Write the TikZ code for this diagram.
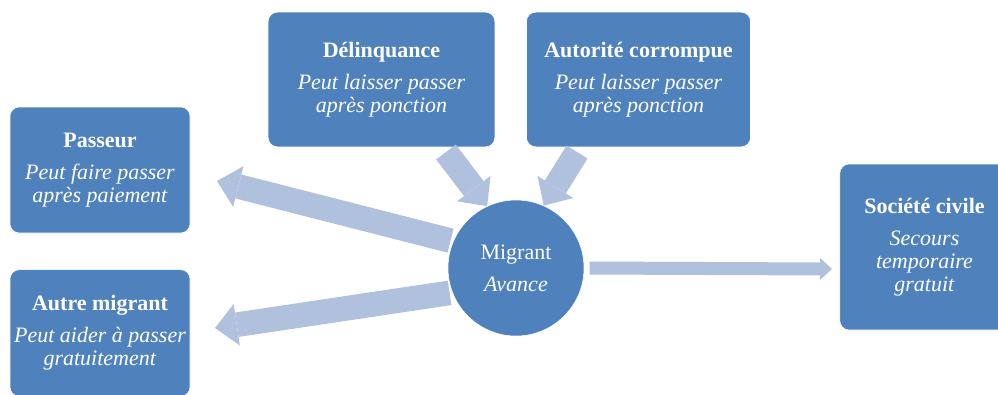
\documentclass[tikz,border=0pt]{standalone}
\usepackage{fontspec}
\setmainfont{Liberation Serif}
\usetikzlibrary{arrows.meta}
\definecolor{boxblue}{RGB}{79,129,189}
\definecolor{arrowblue}{RGB}{176,193,222}

\begin{document}
\begin{tikzpicture}[x=0.75pt, y=-0.75pt,
  every node/.style={font=\fontsize{16.5}{17.25}\selectfont, text=white},
  box/.style={draw=white, fill=boxblue, rounded corners=7pt, align=center, inner sep=0pt},
  bigarrow/.style={draw=arrowblue, line width=18.5pt,
    -{Triangle[length=16.5pt 0 0, width=31.5pt 0 0, line width=0pt 0 0]}},
  thinarrow/.style={draw=arrowblue, line width=9.75pt,
    -{Triangle[length=9pt 0 0, width=16.5pt 0 0, line width=0pt 0 0]}}]
  \useasboundingbox (0,0) rectangle (998,394);

  % actors round the migrant
  \node[box, minimum width=135pt, minimum height=94.5pt] (passeur) at (100,170)
    {\textbf{Passeur}\\[6.75pt]\textit{Peut faire passer}\\\textit{après paiement}};
  \node[box, minimum width=135pt, minimum height=95pt] (autre) at (100,333)
    {\textbf{Autre migrant}\\[6.75pt]\textit{Peut aider à passer}\\\textit{gratuitement}};
  \node[box, minimum width=170pt, minimum height=101pt] (delinq) at (381.5,79.5)
    {\textbf{Délinquance}\\[6.75pt]\textit{Peut laisser passer}\\\textit{après ponction}};
  \node[box, minimum width=168pt, minimum height=101pt] (autor) at (638.5,79.5)
    {\textbf{Autorité corrompue}\\[6.75pt]\textit{Peut laisser passer}\\\textit{après ponction}};
  \node[box, minimum width=127pt, minimum height=124.5pt] (societe) at (924.5,247)
    {\textbf{Société civile}\\[6.75pt]\textit{Secours}\\\textit{temporaire}\\\textit{gratuit}};

  % the migrant
  \node[circle, draw=white, fill=boxblue, minimum size=102pt, inner sep=0pt, align=center] (migrant)
    at (516,268) {Migrant\\[6.75pt]\textit{Avance}};

  % arrows into the migrant
  \coordinate (delinq-tail) at (446,152);
  \coordinate (autor-tail) at (577,152);
  \draw[bigarrow] (delinq-tail) -- (migrant.115);
  \draw[bigarrow] (autor-tail) -- (migrant.66);

  % arrows out of the migrant
  \coordinate (passeur-tip) at (217,181);
  \coordinate (autre-tip) at (215,328);
  \coordinate (societe-tip) at (832,269);
  \draw[bigarrow, shorten <=2pt] (migrant.157) -- (passeur-tip);
  \draw[bigarrow, shorten <=2pt] (migrant.201) -- (autre-tip);
  \draw[thinarrow, shorten <=4pt] (migrant.0) -- (societe-tip);
\end{tikzpicture}
\end{document}
